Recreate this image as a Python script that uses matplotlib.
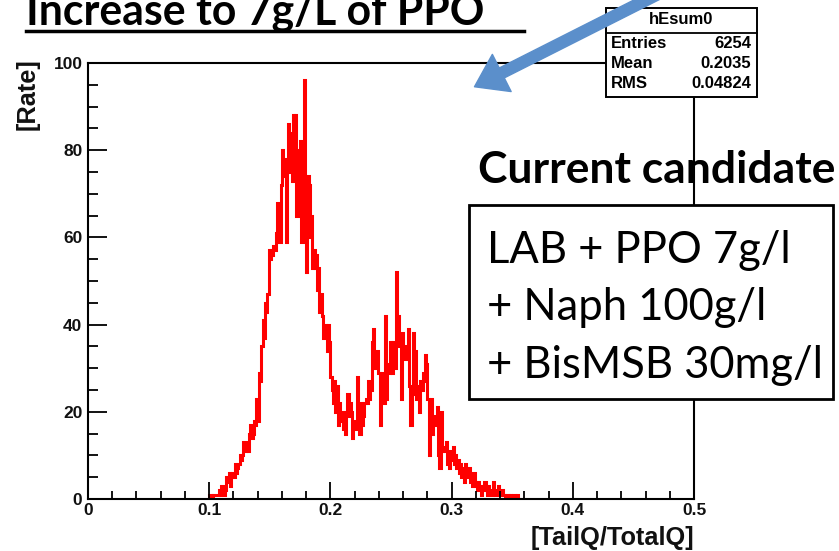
import numpy as np
import matplotlib
matplotlib.use('Agg')
import matplotlib.pyplot as plt
import matplotlib.patches as mpatches
from matplotlib.lines import Line2D
from matplotlib.ticker import MultipleLocator, FuncFormatter

# histogram hEsum0 : 0.001 wide bins starting at 0.100
bin_lo = 0.100
bin_w = 0.001
counts = [
    1, 1, 0, 1, 1, 1, 1, 1, 2, 1,
    3, 1, 1, 2, 5, 4, 6, 3, 5, 6,
    5, 8, 6, 7, 8, 10, 9, 10, 13, 11,
    12, 13, 11, 15, 17, 14, 15, 18, 17, 23,
    18, 29, 27, 35, 41, 37, 45, 43, 47, 57,
    55, 57, 56, 58, 57, 61, 68, 62, 59, 72,
    80, 74, 78, 59, 76, 86, 75, 84, 73, 88,
    80, 88, 65, 80, 76, 82, 59, 78, 96, 74,
    52, 74, 72, 60, 65, 53, 57, 53, 56, 48,
    53, 43, 47, 42, 37, 40, 38, 34, 40, 36,
    28, 25, 22, 27, 20, 26, 17, 22, 18, 20,
    16, 17, 15, 20, 24, 19, 22, 20, 14, 18,
    16, 16, 28, 20, 15, 22, 17, 19, 22, 23,
    22, 27, 23, 25, 36, 39, 33, 30, 34, 29,
    29, 17, 29, 29, 22, 42, 23, 31, 29, 36,
    33, 29, 36, 30, 52, 38, 42, 35, 23, 38,
    34, 32, 35, 33, 39, 26, 17, 24, 38, 31,
    34, 23, 26, 20, 27, 25, 29, 27, 33, 31,
    23, 10, 16, 23, 15, 19, 17, 18, 21, 10,
    7, 20, 11, 12, 11, 13, 8, 10, 7, 11,
    9, 12, 8, 10, 7, 9, 6, 8, 5, 7,
    4, 8, 6, 5, 7, 4, 5, 3, 6, 4,
    3, 2, 4, 3, 1, 3, 2, 4, 2, 1,
    3, 2, 1, 1, 4, 2, 1, 1, 3, 1,
    1, 2, 1, 1, 0, 1, 1, 0, 1, 0,
    0, 1, 0, 0, 1, 0, 0, 0, 0, 0,
]

stat_title = 'hEsum0'
stat_names = ['Entries', 'Mean', 'RMS']
stat_values = ['6254', '0.2035', '0.04824']

title = 'Increase to 7g/L of PPO'
subtitle = 'Current candidate'
recipe = ['LAB + PPO 7g/l', '+ Naph 100g/l', '+ BisMSB 30mg/l']
xlabel = '[TailQ/TotalQ]'
ylabel = '[Rate]'

W, H = 839, 551


def px(x, y):
    # pixel position (from top-left) -> figure fraction
    return x / W, 1 - y / H


def fit_width(fig, txt, target):
    fig.canvas.draw()
    bb = txt.get_window_extent(fig.canvas.get_renderer())
    txt.set_fontsize(txt.get_fontsize() * target / bb.width)


fig = plt.figure(figsize=(W / 100, H / 100), dpi=100)
ax = fig.add_axes([88 / W, 52 / H, 606 / W, 436 / H])

edges = bin_lo + bin_w * np.arange(len(counts) + 1)
ax.stairs(counts, edges, color='red', lw=2.2)

ax.set_xlim(0, 0.5)
ax.set_ylim(0, 100)
ax.xaxis.set_major_locator(MultipleLocator(0.1))
ax.xaxis.set_minor_locator(MultipleLocator(0.02))
ax.yaxis.set_major_locator(MultipleLocator(20))
ax.yaxis.set_minor_locator(MultipleLocator(5))
ax.xaxis.set_major_formatter(FuncFormatter(lambda v, p: '0' if abs(v) < 1e-9 else f'{v:.1f}'))
ax.yaxis.set_major_formatter(FuncFormatter(lambda v, p: f'{v:.0f}'))
ax.tick_params(which='both', direction='in', top=False, right=False, width=1.3, color='black')
ax.tick_params(axis='x', which='major', length=12, pad=3)
ax.tick_params(axis='x', which='minor', length=6)
ax.tick_params(axis='y', which='major', length=14, pad=4)
ax.tick_params(axis='y', which='minor', length=7)
for lab in ax.get_xticklabels() + ax.get_yticklabels():
    lab.set_fontfamily('Liberation Sans')
    lab.set_fontweight('bold')
    lab.set_fontsize(12.5)
    lab.set_color('#111111')
for s in ax.spines.values():
    s.set_linewidth(1.5)
    s.set_color('black')

# axis titles, ROOT style (aligned to axis ends)
xt = fig.text(*px(694, 538), xlabel, ha='right', va='center',
              family='Liberation Sans', weight='bold', fontsize=16, color='#111111')
yt = fig.text(*px(28, 58), ylabel, ha='center', va='top', rotation=90,
              family='Liberation Sans', weight='bold', fontsize=16, color='#111111')
fit_width(fig, xt, 164)
yt.set_fontsize(xt.get_fontsize())

# stats box
x0, y0 = px(606, 97)
x1, y1 = px(757, 8)
fig.add_artist(mpatches.Rectangle((x0, y0), x1 - x0, y1 - y0, transform=fig.transFigure,
                                  facecolor='white', edgecolor='black', lw=1.4, zorder=5))
fig.add_artist(Line2D([x0, x1], [px(0, 33)[1]] * 2, transform=fig.transFigure,
                      color='black', lw=1.3, zorder=6))
fig.text(*px(681, 20), stat_title, ha='center', va='center', family='Liberation Sans',
         weight='bold', fontsize=12, zorder=7)
for i, (n, v) in enumerate(zip(stat_names, stat_values)):
    yy = 43 + 20 * i
    fig.text(*px(611, yy), n, ha='left', va='center', family='Liberation Sans',
             weight='bold', fontsize=12, zorder=7)
    fig.text(*px(751, yy), v, ha='right', va='center', family='Liberation Sans',
             weight='bold', fontsize=12, zorder=7)

# slide annotations
tt = fig.text(*px(26, 24), title, ha='left', va='baseline', family='Lato',
              weight='bold', fontsize=28, zorder=8)
fit_width(fig, tt, 458)
fig.add_artist(Line2D([26 / W, 524 / W], [px(0, 31)[1]] * 2, transform=fig.transFigure,
                      color='black', lw=2.5, zorder=8))

ct = fig.text(*px(478, 183), subtitle, ha='left', va='baseline', family='Lato',
              weight='bold', fontsize=26, zorder=8)
fit_width(fig, ct, 357)

bx0, by0 = px(469, 399)
bx1, by1 = px(833, 205)
fig.add_artist(mpatches.Rectangle((bx0, by0), bx1 - bx0, by1 - by0, transform=fig.transFigure,
                                  facecolor='white', edgecolor='black', lw=2, zorder=7))
rt = []
for i, line in enumerate(recipe):
    rt.append(fig.text(*px(487, 263 + 57.5 * i), line, ha='left', va='baseline',
                       family='Lato', fontsize=26, zorder=8))
fit_width(fig, rt[2], 336)
for t in rt[:2]:
    t.set_fontsize(rt[2].get_fontsize())

arrow = mpatches.FancyArrowPatch(px(662, -8), px(472, 88), transform=fig.transFigure,
                                 arrowstyle=mpatches.ArrowStyle.Simple(head_length=1.1, head_width=1.5,
                                                                       tail_width=0.4),
                                 mutation_scale=20, color='#5b8fcb', zorder=9)
fig.add_artist(arrow)

fig.savefig('out.png', dpi=100)
